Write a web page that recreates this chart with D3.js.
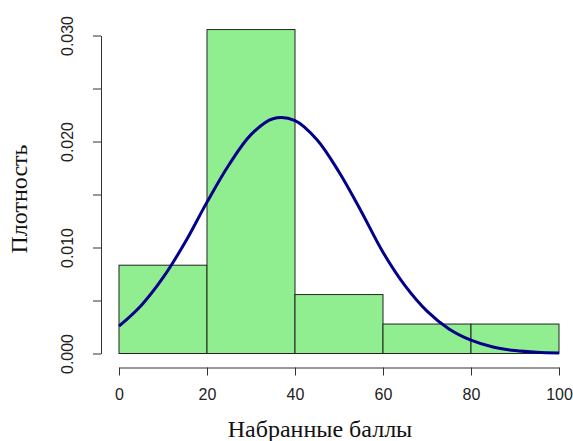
<!DOCTYPE html>
<html>
<head>
<meta charset="utf-8">
<script src="https://cdn.jsdelivr.net/npm/d3@7"></script>
<style>
  body { margin: 0; background: #fff; }
  svg { display: block; }
</style>
</head>
<body>
<div id="chart"></div>
<script>
// histogram bins (score ranges) and their densities
const binStarts = [0, 20, 40, 60, 80];
const binWidth = 20;
const binDensity = [0.00833, 0.03056, 0.00556, 0.00278, 0.00278];

// fitted density curve
const curveX = [0, 5, 10, 15, 20, 25, 30, 35, 40, 45, 50, 55, 60, 65, 70, 75, 80, 85, 90, 95, 100];
const curveY = [0.00258, 0.00451, 0.00715, 0.01047, 0.01428, 0.01781, 0.02065, 0.02215, 0.02198, 0.02017,
                0.01712, 0.01345, 0.00955, 0.00640, 0.00400, 0.00232, 0.00126, 0.00061, 0.00028, 0.00012, 0.00005];

const xTicks = [0, 20, 40, 60, 80, 100];
const yTicks = [0, 0.005, 0.010, 0.015, 0.020, 0.025, 0.030];
const yTickLabels = ["0.000", "", "0.010", "", "0.020", "", "0.030"];

const width = 573, height = 441;
const svg = d3.select("#chart").append("svg")
    .attr("width", width)
    .attr("height", height);

const x = d3.scaleLinear().domain([0, 100]).range([119, 559]);
const y = d3.scaleLinear().domain([0, 0.030]).range([353.5, 35.5]);

// bars
svg.selectAll("rect.bar")
    .data(binStarts)
    .enter()
    .append("rect")
    .attr("class", "bar")
    .attr("x", d => x(d))
    .attr("y", (d, i) => y(binDensity[i]))
    .attr("width", d => x(d + binWidth) - x(d))
    .attr("height", (d, i) => y(0) - y(binDensity[i]))
    .attr("fill", "#90ee90")
    .attr("stroke", "#222")
    .attr("stroke-width", 1);

// density line
const line = d3.line()
    .x(d => x(d[0]))
    .y(d => y(d[1]))
    .curve(d3.curveCatmullRom);

svg.append("path")
    .datum(curveX.map((v, i) => [v, curveY[i]]))
    .attr("d", line)
    .attr("fill", "none")
    .attr("stroke", "#00008b")
    .attr("stroke-width", 3);

// x axis
const xAxis = svg.append("g")
    .attr("transform", "translate(0,367.5)")
    .call(d3.axisBottom(x).tickValues(xTicks).tickSize(8).tickPadding(13).tickSizeOuter(0));

// y axis
const yAxis = svg.append("g")
    .attr("transform", "translate(101,0)")
    .call(d3.axisLeft(y).tickValues(yTicks).tickSize(8).tickSizeOuter(0)
        .tickFormat((d, i) => yTickLabels[i]));

[xAxis, yAxis].forEach(g => {
    g.select(".domain").attr("stroke", "#333").attr("stroke-width", 1);
    g.selectAll(".tick line").attr("stroke", "#333");
    g.selectAll("text")
        .attr("fill", "#222")
        .style("font-family", "'Liberation Sans', Arial, sans-serif")
        .style("font-size", "16px");
});

yAxis.selectAll(".tick text")
    .attr("transform", "rotate(-90)")
    .attr("x", 0)
    .attr("y", -28)
    .attr("dy", "0")
    .attr("text-anchor", "middle");

// axis titles
svg.append("text")
    .attr("x", 320)
    .attr("y", 437)
    .attr("text-anchor", "middle")
    .style("font-family", "'Liberation Serif', 'Times New Roman', serif")
    .style("font-size", "24px")
    .attr("fill", "#111")
    .text("Набранные баллы");

svg.append("text")
    .attr("transform", "translate(27,199) rotate(-90)")
    .attr("text-anchor", "middle")
    .style("font-family", "'Liberation Serif', 'Times New Roman', serif")
    .style("font-size", "24px")
    .attr("fill", "#111")
    .text("Плотность");
</script>
</body>
</html>
